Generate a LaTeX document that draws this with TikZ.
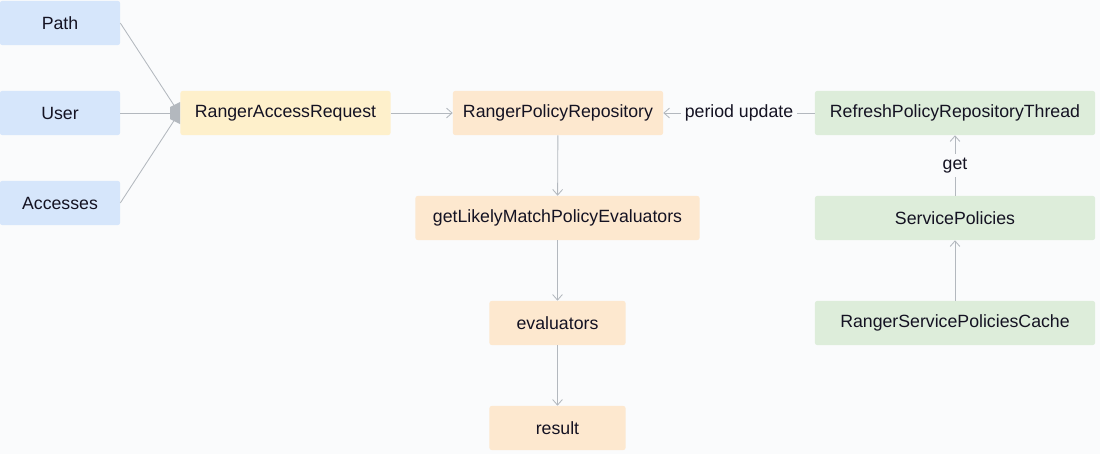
\documentclass[tikz,border=0pt]{standalone}
\usepackage{fontspec}
\setmainfont{Liberation Sans}
\usepackage{xcolor}
\usepackage{tikz}
\usetikzlibrary{arrows.meta,calc}

\definecolor{inputBlue}{HTML}{D6E6FB}
\definecolor{requestYellow}{HTML}{FEF0CB}
\definecolor{flowOrange}{HTML}{FDE8CF}
\definecolor{cacheGreen}{HTML}{DDEDDA}
\definecolor{linkGray}{HTML}{B3B8BE}
\definecolor{labelInk}{HTML}{141222}
\definecolor{canvasWhite}{HTML}{FAFBFC}

\tikzset{
    box/.style={rectangle, rounded corners=1.5pt, inner sep=0pt,
                minimum height=1.1cm, text=labelInk, font=\fontsize{12.6}{15}\selectfont},
    blueBox/.style={box, fill=inputBlue, minimum width=3cm},
    yellowBox/.style={box, fill=requestYellow, minimum width=5.25cm},
    orangeBox/.style={box, fill=flowOrange},
    greenBox/.style={box, fill=cacheGreen, minimum width=7cm},
    link/.style={draw=linkGray, line width=0.6pt},
    arrowLink/.style={link, -{Straight Barb[length=4pt, width=7pt]}},
    linkLabel/.style={fill=canvasWhite, inner sep=3pt, text=labelInk,
                font=\fontsize{12.6}{15}\selectfont}
}

\begin{document}
\begin{tikzpicture}[x=0.025cm, y=-0.025cm]
        % canvas
        \fill[canvasWhite] (0,0) rectangle (1100,454);
        \useasboundingbox (0,0) rectangle (1100,454);

        % input fields
        \node[blueBox] (path) at (60,23) {Path};
        \node[blueBox] (user) at (60,113) {User};
        \node[blueBox] (accesses) at (60,203) {Accesses};

        % request and repository
        \node[yellowBox] (request) at (285.5,113) {RangerAccessRequest};
        \node[orangeBox, minimum width=5.25cm] (repository) at (558,113) {RangerPolicyRepository};

        % evaluation chain
        \node[orangeBox, minimum width=7.1cm] (likely) at (557.5,218) {getLikelyMatchPolicyEvaluators};
        \node[orangeBox, minimum width=3.4cm] (evaluators) at (557.5,323) {evaluators};
        \node[orangeBox, minimum width=3.4cm] (result) at (557.5,428) {result};

        % policy refresh side
        \node[greenBox] (refresh) at (955,113) {RefreshPolicyRepositoryThread};
        \node[greenBox] (service) at (955,218) {ServicePolicies};
        \node[greenBox] (cache) at (955,323) {RangerServicePoliciesCache};

        % merge of the inputs
        \coordinate (merge) at (179,113);
        \draw[link] (path.east) -- (merge);
        \draw[link] (user.east) -- (merge);
        \draw[link] (accesses.east) -- (merge);
        \fill[linkGray] (170,107) -- (180,102) -- (180,124) -- (170,119) -- cycle;

        % arrows
        \draw[arrowLink] (request) -- (repository);
        \draw[arrowLink] (refresh) -- node[linkLabel] {period update} (repository);
        \draw[arrowLink] (repository) -- (likely);
        \draw[arrowLink] (likely) -- (evaluators);
        \draw[arrowLink] (evaluators) -- (result);
        \draw[arrowLink] (service) -- node[linkLabel] {get} (refresh);
        \draw[arrowLink] (cache) -- (service);
\end{tikzpicture}
\end{document}
